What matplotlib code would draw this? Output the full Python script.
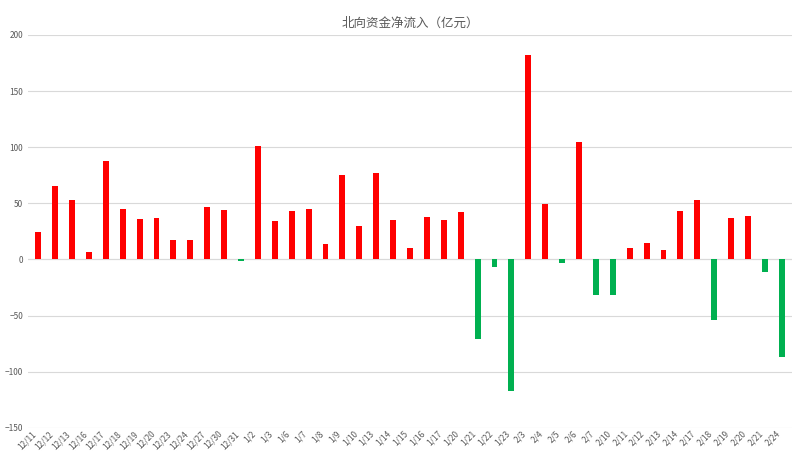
import matplotlib.pyplot as plt

plt.rcParams['font.family'] = ['Noto Sans CJK SC', 'DejaVu Sans']

dates = ["12/11", "12/12", "12/13", "12/16", "12/17", "12/18", "12/19", "12/20", "12/23", "12/24",
         "12/27", "12/30", "12/31", "1/2", "1/3", "1/6", "1/7", "1/8", "1/9", "1/10",
         "1/13", "1/14", "1/15", "1/16", "1/17", "1/20", "1/21", "1/22", "1/23", "2/3",
         "2/4", "2/5", "2/6", "2/7", "2/10", "2/11", "2/12", "2/13", "2/14", "2/17",
         "2/18", "2/19", "2/20", "2/21", "2/24"]
inflow = [24, 65, 53, 7, 88, 45, 36, 37, 17, 17,
          47, 44, -1, 101, 34, 43, 45, 14, 75, 30,
          77, 35, 10, 38, 35, 42, -71, -7, -117, 182,
          49, -3, 105, -32, -32, 10, 15, 8, 43, 53,
          -54, 37, 39, -11, -87]

colors = ["#ff0000" if v >= 0 else "#00b050" for v in inflow]

fig, ax = plt.subplots(figsize=(8, 4.65), dpi=100)
fig.subplots_adjust(left=0.035, right=0.99, top=0.925, bottom=0.08)
x = range(len(dates))
ax.bar(x, inflow, width=0.35, color=colors, zorder=3)
ax.set_ylim(-150, 200)
ax.set_yticks(range(-150, 201, 50))
ax.set_xlim(-0.6, len(dates) - 0.4)
ax.set_xticks(list(x))
ax.set_xticklabels(dates, rotation=45, ha="right", fontsize=6, color="#595959")
ax.tick_params(axis="y", labelsize=6, colors="#595959", length=0)
ax.tick_params(axis="x", length=0, pad=1)
ax.grid(axis="y", color="#d9d9d9", linewidth=0.8, zorder=0)
ax.axhline(0, color="#d9d9d9", linewidth=0.8, zorder=1)
for s in ax.spines.values():
    s.set_visible(False)
ax.set_title("北向资金净流入（亿元）", fontsize=9, color="#595959")
fig.savefig("out.png")
